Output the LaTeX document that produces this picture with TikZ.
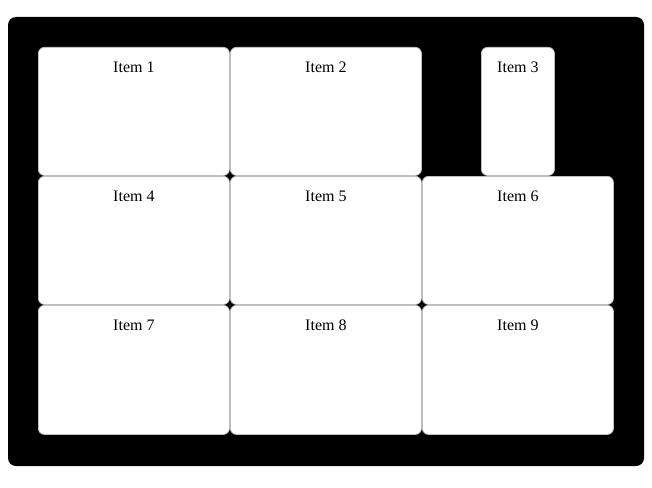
\documentclass[tikz,border=0pt]{standalone}
\usepackage{fontspec}
\setmainfont{Liberation Serif}
\usetikzlibrary{positioning}
\tikzset{
  itembox/.style={rectangle, rounded corners=6pt, draw=black!25, fill=white, line width=0.8pt, anchor=north west, inner sep=0pt, minimum height=128pt},
  itemtext/.style={font=\fontsize{16}{18}\selectfont, anchor=north, inner sep=0pt}
}
\begin{document}
\begin{tikzpicture}[x=1pt,y=-1pt]
\useasboundingbox (0,0) rectangle (652,487);
\fill[black, rounded corners=8pt] (8,17) rectangle (644,466);

\node (item1) [itembox, minimum width=191pt] at (38,47) {};
\node (item2) [itembox, minimum width=191pt] at (230,47) {};
\node (item3) [itembox, minimum width=73pt] at (481,47) {};
\node (item4) [itembox, minimum width=191pt] at (38,176) {};
\node (item5) [itembox, minimum width=191pt] at (230,176) {};
\node (item6) [itembox, minimum width=191pt] at (422,176) {};
\node (item7) [itembox, minimum width=191pt, minimum height=129pt] at (38,305) {};
\node (item8) [itembox, minimum width=191pt, minimum height=129pt] at (230,305) {};
\node (item9) [itembox, minimum width=191pt, minimum height=129pt] at (422,305) {};

\foreach \i in {1,...,9}
  \node (text\i) [itemtext, below=15pt of item\i.north] {Item \i};
\end{tikzpicture}
\end{document}
